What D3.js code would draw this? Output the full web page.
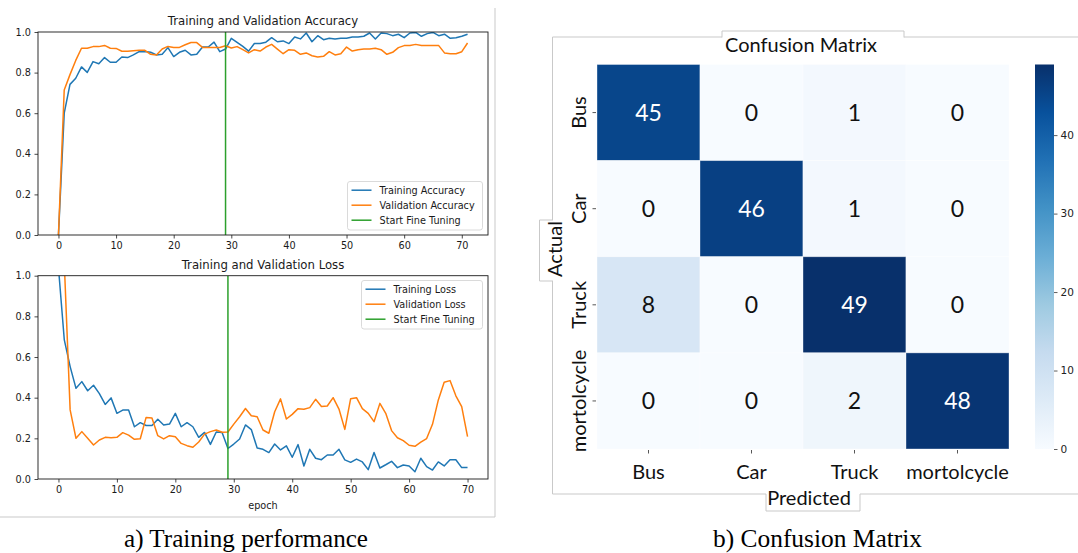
<!DOCTYPE html>
<html>
<head>
<meta charset="utf-8">
<script src="https://cdn.jsdelivr.net/npm/d3@7"></script>
<style>
  body { margin: 0; background: #fff; }
  svg { display: block; }
</style>
</head>
<body>
<svg id="fig" width="1078" height="553"></svg>
<script>
// ---- training history ----
const trainAcc = [0.0, 0.60, 0.742, 0.772, 0.828, 0.801, 0.854, 0.844, 0.874, 0.851,
  0.851, 0.877, 0.874, 0.887, 0.903, 0.904, 0.90, 0.887, 0.89, 0.923,
  0.879, 0.90, 0.91, 0.887, 0.89, 0.926, 0.926, 0.950, 0.903, 0.916,
  0.969, 0.949, 0.929, 0.906, 0.943, 0.943, 0.950, 0.972, 0.952, 0.956,
  0.943, 0.975, 0.966, 0.995, 0.952, 0.982, 0.962, 0.969, 0.966, 0.969,
  0.969, 0.975, 0.975, 0.979, 0.995, 0.966, 0.995, 0.992, 0.982, 0.989,
  0.972, 0.995, 0.998, 0.979, 0.992, 0.998, 0.982, 0.989, 0.969, 0.972,
  0.979, 0.989];
const valAcc = [0.0, 0.714, 0.79, 0.86, 0.92, 0.92, 0.928, 0.928, 0.934, 0.92,
  0.919, 0.905, 0.905, 0.908, 0.91, 0.91, 0.89, 0.887, 0.916, 0.929,
  0.924, 0.924, 0.937, 0.948, 0.948, 0.924, 0.924, 0.924, 0.924, 0.932,
  0.921, 0.928, 0.913, 0.897, 0.913, 0.906, 0.926, 0.939, 0.916, 0.893,
  0.913, 0.91, 0.89, 0.897, 0.883, 0.877, 0.88, 0.903, 0.887, 0.893,
  0.926, 0.906, 0.913, 0.916, 0.916, 0.92, 0.913, 0.89, 0.90, 0.923,
  0.933, 0.933, 0.939, 0.933, 0.933, 0.933, 0.933, 0.897, 0.893, 0.893,
  0.903, 0.946];
const trainLoss = [1.04, 0.684, 0.553, 0.446, 0.479, 0.434, 0.461, 0.42, 0.367, 0.399,
  0.323, 0.339, 0.339, 0.257, 0.277, 0.263, 0.263, 0.294, 0.266, 0.27,
  0.323, 0.257, 0.277, 0.257, 0.205, 0.229, 0.17, 0.231, 0.229, 0.15,
  0.172, 0.197, 0.266, 0.243, 0.152, 0.146, 0.13, 0.172, 0.143, 0.163,
  0.107, 0.169, 0.064, 0.146, 0.102, 0.095, 0.118, 0.118, 0.146, 0.094,
  0.082, 0.098, 0.084, 0.046, 0.13, 0.054, 0.07, 0.087, 0.056, 0.069,
  0.064, 0.036, 0.102, 0.061, 0.044, 0.084, 0.064, 0.095, 0.095, 0.056,
  0.056];
const valLoss = [1.9, 1.06, 0.34, 0.20, 0.233, 0.20, 0.167, 0.192, 0.205, 0.203,
  0.205, 0.228, 0.216, 0.195, 0.198, 0.303, 0.30, 0.213, 0.197, 0.213,
  0.208, 0.175, 0.164, 0.156, 0.182, 0.221, 0.233, 0.241, 0.23, 0.231,
  0.27, 0.306, 0.347, 0.311, 0.306, 0.241, 0.225, 0.331, 0.394, 0.295,
  0.318, 0.346, 0.343, 0.351, 0.392, 0.357, 0.359, 0.40, 0.344, 0.244,
  0.395, 0.40, 0.346, 0.323, 0.282, 0.372, 0.323, 0.238, 0.203, 0.189,
  0.166, 0.161, 0.181, 0.199, 0.269, 0.389, 0.476, 0.484, 0.409, 0.356,
  0.208];
const fineTuneEpoch = 29;
const epochTicks = [0, 10, 20, 30, 40, 50, 60, 70];
const rateTicks = [0.0, 0.2, 0.4, 0.6, 0.8, 1.0];
const accLabels = ["Training Accuracy", "Validation Accuracy", "Start Fine Tuning"];
const lossLabels = ["Training Loss", "Validation Loss", "Start Fine Tuning"];

// ---- confusion matrix ----
const classes = ["Bus", "Car", "Truck", "mortolcycle"];
const confusion = [
  [45, 0, 1, 0],
  [0, 46, 1, 0],
  [8, 0, 49, 0],
  [0, 0, 2, 48]
];
const colorbarTicks = [0, 10, 20, 30, 40];
const bluesStops = ["#f7fbff", "#deebf7", "#c6dbef", "#9ecae1", "#6baed6",
                    "#4292c6", "#2171b5", "#08519c", "#08306b"];

const C_TRAIN = "#1f77b4", C_VAL = "#ff7f0e", C_FT = "#2ca02c";
const MPL = "'DejaVu Sans', sans-serif";
const SEA = "Lato, 'Open Sans', sans-serif";
const INK = "#1a1a1a";

const svg = d3.select("#fig");
const defs = svg.append("defs");

// ---------- line panels ----------
function historyPanel(o) {
  const n = o.series[0].length - 1;
  const pad = n * 0.05;
  const x = d3.scaleLinear([-pad, n + pad], [o.left, o.right]);
  const y = d3.scaleLinear([0, 1], [o.bottom, o.top]);
  const g = svg.append("g");

  defs.append("clipPath").attr("id", o.id)
    .append("rect")
    .attr("x", o.left).attr("y", o.top)
    .attr("width", o.right - o.left).attr("height", o.bottom - o.top);

  const plot = g.append("g").attr("clip-path", `url(#${o.id})`);
  const line = d3.line().x((d, i) => x(i)).y(d => y(d));
  o.series.forEach((s, i) => {
    plot.append("path").datum(s)
      .attr("d", line)
      .attr("fill", "none")
      .attr("stroke", [C_TRAIN, C_VAL][i])
      .attr("stroke-width", 1.5)
      .attr("stroke-linejoin", "round");
  });
  plot.append("line")
    .attr("x1", x(fineTuneEpoch)).attr("x2", x(fineTuneEpoch))
    .attr("y1", y(0)).attr("y2", y(1))
    .attr("stroke", C_FT).attr("stroke-width", 1.5);

  const styleAxis = a => {
    a.select(".domain").remove();
    a.selectAll(".tick line").attr("stroke", INK).attr("stroke-width", 0.8);
    a.selectAll(".tick text").attr("fill", INK).style("font-family", MPL).style("font-size", "9.7px");
  };
  g.append("g").attr("transform", `translate(0,${o.bottom})`)
    .call(d3.axisBottom(x).tickValues(epochTicks).tickFormat(d3.format("d"))
      .tickSize(3.5).tickPadding(3.5))
    .call(styleAxis);
  g.append("g").attr("transform", `translate(${o.left},0)`)
    .call(d3.axisLeft(y).tickValues(rateTicks).tickFormat(d3.format(".1f"))
      .tickSize(3.5).tickPadding(3.5))
    .call(styleAxis);

  g.append("rect")
    .attr("x", o.left).attr("y", o.top)
    .attr("width", o.right - o.left).attr("height", o.bottom - o.top)
    .attr("fill", "none").attr("stroke", INK).attr("stroke-width", 0.9);

  g.append("text")
    .attr("x", (o.left + o.right) / 2).attr("y", o.top - 7)
    .attr("text-anchor", "middle")
    .style("font-family", MPL).style("font-size", "11.7px").attr("fill", INK)
    .text(o.title);

  if (o.xLabel) {
    g.append("text")
      .attr("x", (o.left + o.right) / 2).attr("y", o.bottom + 30)
      .attr("text-anchor", "middle")
      .style("font-family", MPL).style("font-size", "9.7px").attr("fill", INK)
      .text(o.xLabel);
  }

  // legend
  const L = o.legend;
  const lg = g.append("g");
  lg.append("rect")
    .attr("x", L.x).attr("y", L.y).attr("width", L.w).attr("height", 48.5)
    .attr("rx", 2.5)
    .attr("fill", "#fff").attr("fill-opacity", 0.85)
    .attr("stroke", "#d6d6d6").attr("stroke-width", 0.9);
  o.labels.forEach((lab, i) => {
    const cy = L.y + 8.7 + i * 15;
    lg.append("line")
      .attr("x1", L.x + 4).attr("x2", L.x + 24)
      .attr("y1", cy).attr("y2", cy)
      .attr("stroke", [C_TRAIN, C_VAL, C_FT][i]).attr("stroke-width", 1.5);
    lg.append("text")
      .attr("x", L.x + 32).attr("y", cy).attr("dy", "0.35em")
      .style("font-family", MPL).style("font-size", "9.7px").attr("fill", INK)
      .text(lab);
  });
}

historyPanel({
  id: "clipAcc", left: 38, right: 488, top: 32, bottom: 235,
  series: [trainAcc, valAcc], labels: accLabels,
  title: "Training and Validation Accuracy",
  legend: { x: 347.5, y: 181.5, w: 135 }
});
historyPanel({
  id: "clipLoss", left: 38, right: 488, top: 275.7, bottom: 479,
  series: [trainLoss, valLoss], labels: lossLabels,
  title: "Training and Validation Loss", xLabel: "epoch",
  legend: { x: 361.5, y: 280.5, w: 121 }
});

// light border round the left figure
svg.append("path")
  .attr("d", "M495,8 V517 H0")
  .attr("fill", "none").attr("stroke", "#c9c9c9").attr("stroke-width", 1);

// ---------- confusion matrix ----------
const vmax = d3.max(confusion.flat());
const color = d3.scaleLinear()
  .domain(bluesStops.map((_, i) => vmax * i / (bluesStops.length - 1)))
  .range(bluesStops)
  .interpolate(d3.interpolateRgb);

const cmX = d3.scaleBand(classes, [597, 1009]);
const cmY = d3.scaleBand(classes, [64.5, 449]);

// outer frame (open to the right)
svg.append("path")
  .attr("d", "M1078,37 H552.5 V494 H1078")
  .attr("fill", "none").attr("stroke", "#c9c9c9").attr("stroke-width", 1);

const cm = svg.append("g");
confusion.forEach((row, i) => {
  row.forEach((v, j) => {
    cm.append("rect")
      .attr("x", cmX(classes[j])).attr("y", cmY(classes[i]))
      .attr("width", cmX.bandwidth()).attr("height", cmY.bandwidth())
      .attr("fill", color(v))
      .attr("stroke", "#ffffff").attr("stroke-opacity", 0.45).attr("stroke-width", 0.8);
    const c = d3.rgb(color(v));
    const lin = ch => { ch /= 255; return ch <= 0.03928 ? ch / 12.92 : Math.pow((ch + 0.055) / 1.055, 2.4); };
    const lum = 0.2126 * lin(c.r) + 0.7152 * lin(c.g) + 0.0722 * lin(c.b);
    cm.append("text")
      .attr("x", cmX(classes[j]) + cmX.bandwidth() / 2)
      .attr("y", cmY(classes[i]) + cmY.bandwidth() / 2)
      .attr("dy", "0.36em")
      .attr("text-anchor", "middle")
      .style("font-family", SEA).style("font-size", "23px")
      .attr("fill", lum > 0.408 ? "#111" : "#fff")
      .text(v);
  });
});

// row labels (Actual)
classes.forEach(c => {
  const cy = cmY(c) + cmY.bandwidth() / 2;
  cm.append("line").attr("x1", 592.5).attr("x2", 596).attr("y1", cy).attr("y2", cy)
    .attr("stroke", "#444").attr("stroke-width", 0.9);
  cm.append("text")
    .attr("transform", `translate(586,${cy}) rotate(-90)`)
    .attr("text-anchor", "middle")
    .style("font-family", SEA).style("font-size", "20px").attr("fill", "#111")
    .text(c);
});
// column labels (Predicted)
classes.forEach(c => {
  const cx = cmX(c) + cmX.bandwidth() / 2;
  cm.append("line").attr("x1", cx).attr("x2", cx).attr("y1", 450).attr("y2", 453.5)
    .attr("stroke", "#444").attr("stroke-width", 0.9);
  cm.append("text")
    .attr("x", cx).attr("y", 478.5)
    .attr("text-anchor", "middle")
    .style("font-family", SEA).style("font-size", "20px").attr("fill", "#111")
    .text(c);
});

// title with its tab
svg.append("rect").attr("x", 722).attr("y", 31).attr("width", 182).attr("height", 12).attr("fill", "#fff");
svg.append("path").attr("d", "M722,37.5 V31 H904 V37.5")
  .attr("fill", "none").attr("stroke", "#c9c9c9").attr("stroke-width", 1);
svg.append("text")
  .attr("x", 801).attr("y", 52)
  .attr("text-anchor", "middle")
  .style("font-family", SEA).style("font-size", "20px").attr("fill", "#111")
  .text("Confusion Matrix");

// x axis title with its tab
svg.append("rect").attr("x", 766).attr("y", 488).attr("width", 94).attr("height", 23).attr("fill", "#fff");
svg.append("path").attr("d", "M766,494 V511 H860 V494")
  .attr("fill", "none").attr("stroke", "#c9c9c9").attr("stroke-width", 1);
svg.append("text")
  .attr("x", 809).attr("y", 505)
  .attr("text-anchor", "middle")
  .style("font-family", SEA).style("font-size", "20px").attr("fill", "#111")
  .text("Predicted");

// y axis title with its tab
svg.append("rect").attr("x", 539.5).attr("y", 220).attr("width", 14).attr("height", 61).attr("fill", "#fff");
svg.append("path").attr("d", "M553,220 H539.5 V281 H553")
  .attr("fill", "none").attr("stroke", "#c9c9c9").attr("stroke-width", 1);
svg.append("text")
  .attr("transform", "translate(562,249) rotate(-90)")
  .attr("text-anchor", "middle")
  .style("font-family", SEA).style("font-size", "20px").attr("fill", "#111")
  .text("Actual");

// colour bar
const grad = defs.append("linearGradient").attr("id", "bluesGrad")
  .attr("x1", 0).attr("y1", 1).attr("x2", 0).attr("y2", 0);
bluesStops.forEach((s, i) => grad.append("stop")
  .attr("offset", i / (bluesStops.length - 1)).attr("stop-color", s));
const cbY = d3.scaleLinear([0, vmax], [449, 64.5]);
svg.append("rect")
  .attr("x", 1035).attr("y", cbY(vmax))
  .attr("width", 19).attr("height", cbY(0) - cbY(vmax))
  .attr("fill", "url(#bluesGrad)");
svg.append("g").attr("transform", "translate(1054,0)")
  .call(d3.axisRight(cbY).tickValues(colorbarTicks).tickSize(3.5).tickPadding(3))
  .call(a => {
    a.select(".domain").remove();
    a.selectAll(".tick line").attr("stroke", "#333").attr("stroke-width", 0.8);
    a.selectAll(".tick text").attr("fill", "#222").style("font-family", MPL).style("font-size", "10.5px");
  });

// ---------- captions ----------
const SERIF = "'Liberation Serif', 'Times New Roman', serif";
svg.append("text")
  .attr("x", 246).attr("y", 547).attr("text-anchor", "middle")
  .attr("textLength", 244).attr("lengthAdjust", "spacingAndGlyphs")
  .style("font-family", SERIF).style("font-size", "26px").attr("fill", "#000")
  .text("a) Training performance");
svg.append("text")
  .attr("x", 817.5).attr("y", 547).attr("text-anchor", "middle")
  .attr("textLength", 209).attr("lengthAdjust", "spacingAndGlyphs")
  .style("font-family", SERIF).style("font-size", "26px").attr("fill", "#000")
  .text("b) Confusion Matrix");
</script>
</body>
</html>
